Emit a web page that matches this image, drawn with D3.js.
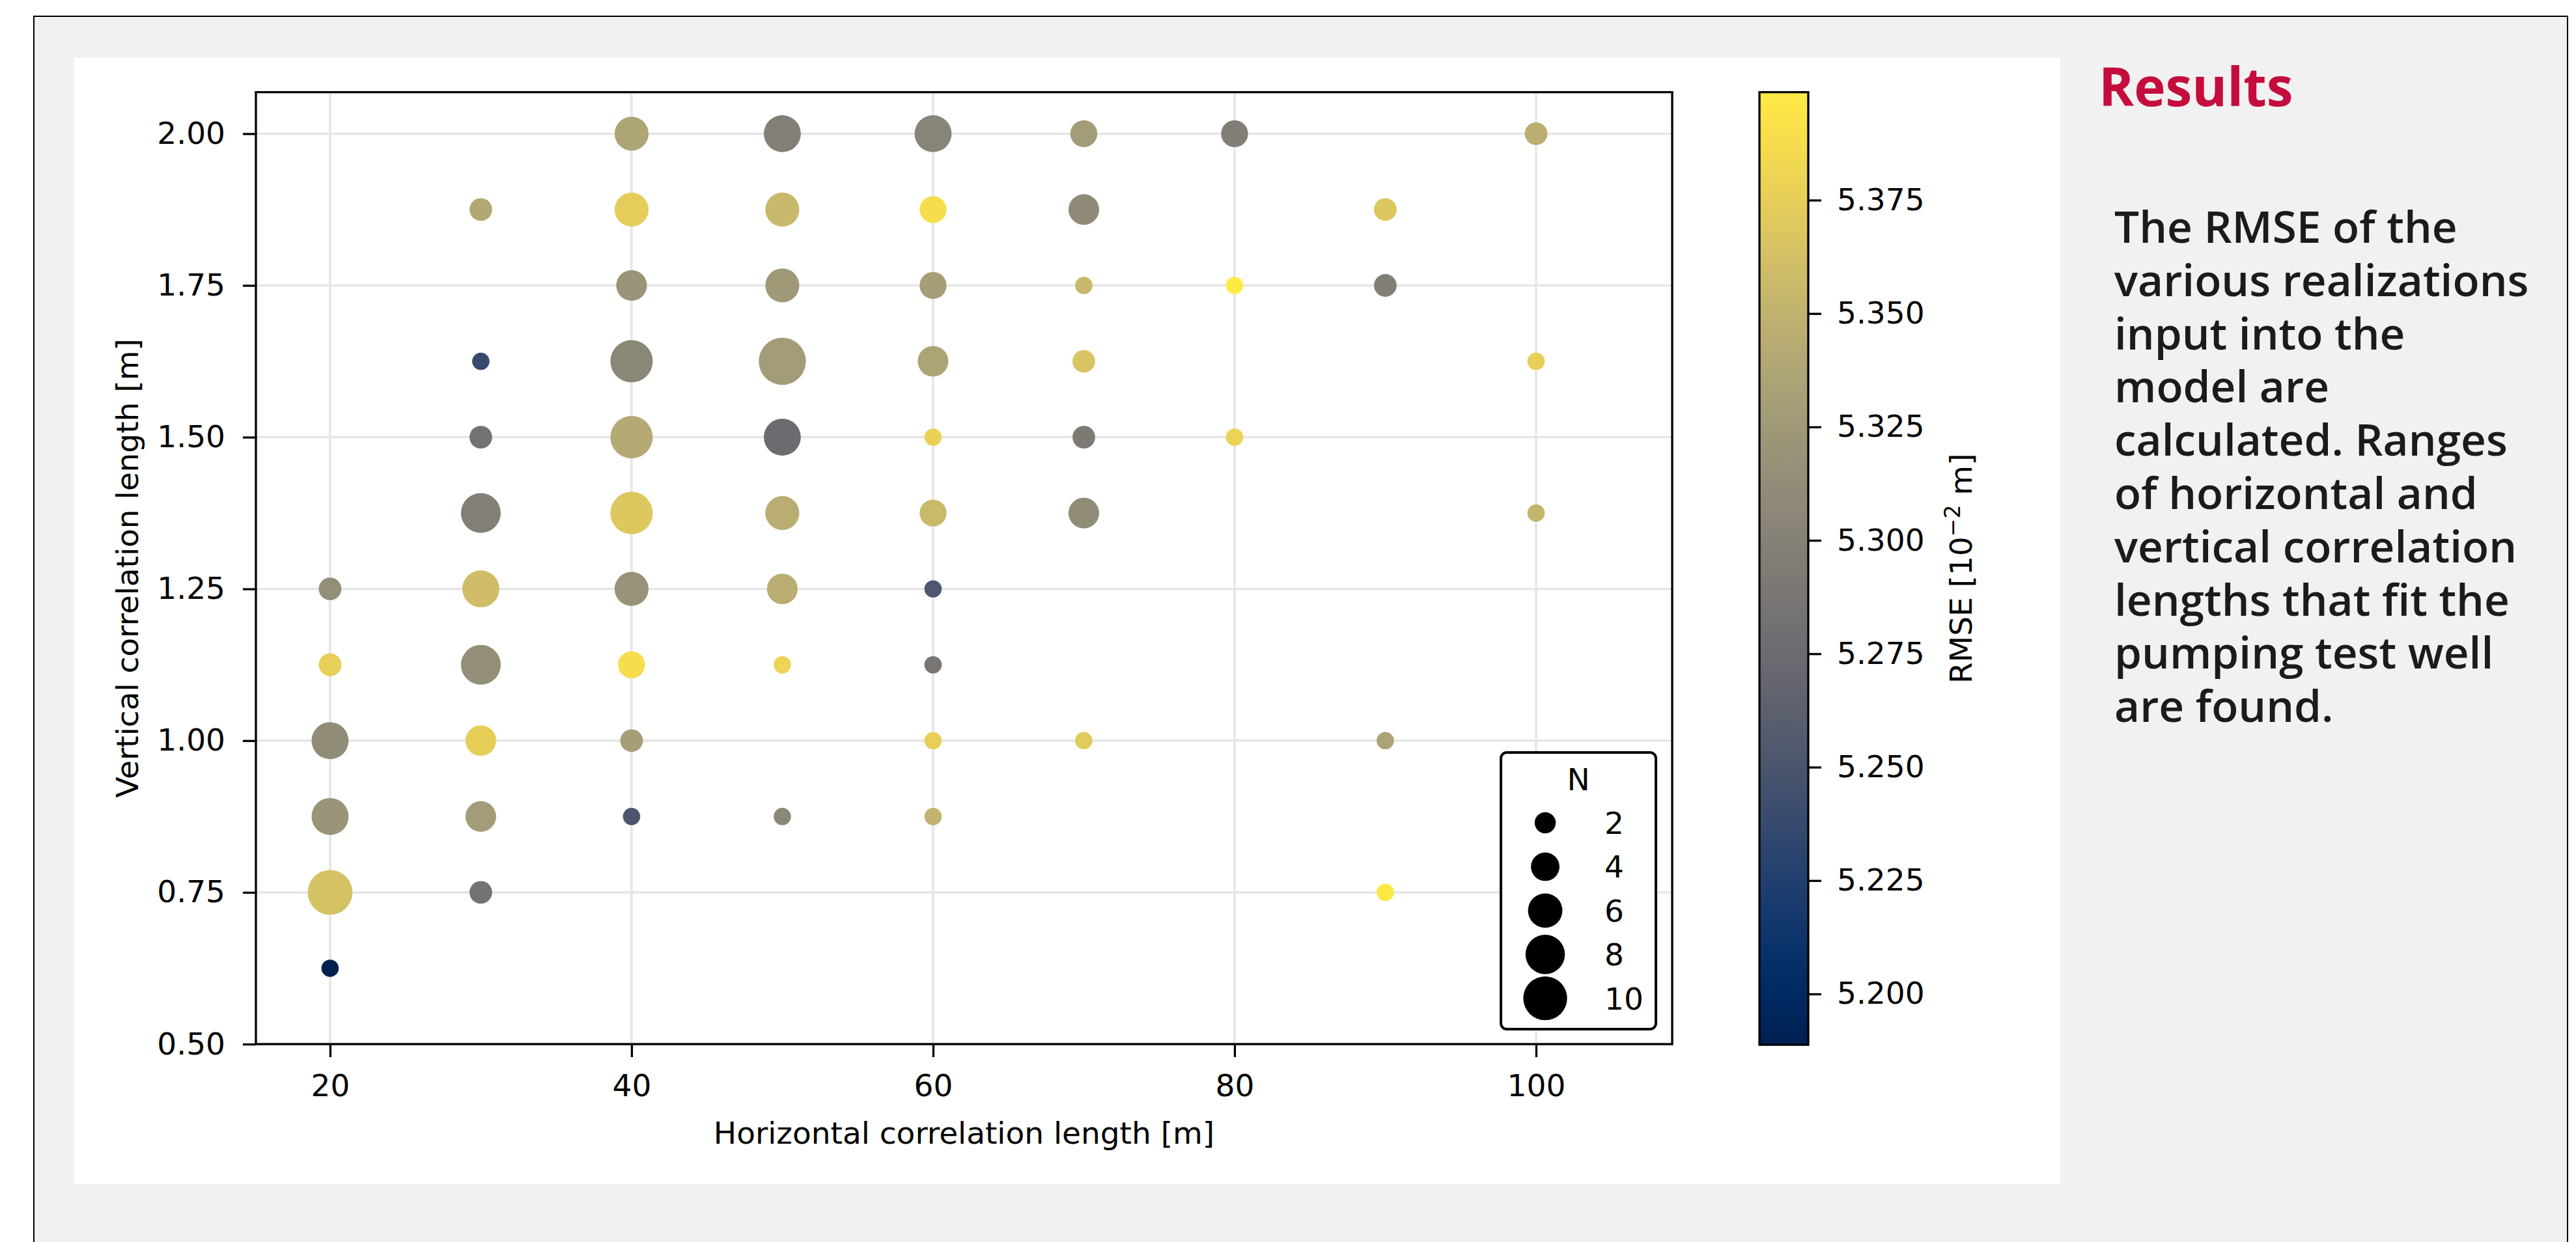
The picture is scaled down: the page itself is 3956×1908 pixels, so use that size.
<!DOCTYPE html>
<meta charset="utf-8">
<html>
<style>
body { margin: 0; background: #fff; }
svg { display: block; }
.axis text { font-family: "DejaVu Sans", sans-serif; font-size: 47px; fill: #000; }
.axis line, .axis path { stroke: #000; stroke-width: 3.3px; }
.grid line { stroke: #e5e5e5; stroke-width: 3.5px; }
.label { font-family: "DejaVu Sans", sans-serif; font-size: 47px; fill: #000; }
.title { font: 700 82px "Open Sans", sans-serif; fill: #c40d3c; }
.body { font: 600 67.5px "Open Sans", sans-serif; fill: #1b1b1b; }
</style>
<svg width="3956" height="1908"></svg>
<script src="https://d3js.org/d3.v7.min.js"></script>
<script>
// one entry per (horizontal, vertical) correlation length pair
var hLen = [20, 20, 20, 20, 20, 20,
            30, 30, 30, 30, 30, 30, 30, 30, 30,
            40, 40, 40, 40, 40, 40, 40, 40, 40, 40,
            50, 50, 50, 50, 50, 50, 50, 50, 50,
            60, 60, 60, 60, 60, 60, 60, 60, 60, 60,
            70, 70, 70, 70, 70, 70, 70,
            80, 80, 80,
            90, 90, 90, 90,
            100, 100, 100];
var vLen = [1.25, 1.125, 1.0, 0.875, 0.75, 0.625,
            1.875, 1.625, 1.5, 1.375, 1.25, 1.125, 1.0, 0.875, 0.75,
            2.0, 1.875, 1.75, 1.625, 1.5, 1.375, 1.25, 1.125, 1.0, 0.875,
            2.0, 1.875, 1.75, 1.625, 1.5, 1.375, 1.25, 1.125, 0.875,
            2.0, 1.875, 1.75, 1.625, 1.5, 1.375, 1.25, 1.125, 1.0, 0.875,
            2.0, 1.875, 1.75, 1.625, 1.5, 1.375, 1.0,
            2.0, 1.75, 1.5,
            1.875, 1.75, 1.0, 0.75,
            2.0, 1.625, 1.375];
// number of realizations
var nReal = [2, 2, 6, 6, 9, 1,
             2, 1, 2, 7, 6, 7, 4, 4, 2,
             5, 5, 4, 8, 8, 8, 5, 3, 2, 1,
             6, 5, 5, 10, 6, 5, 4, 1, 1,
             6, 3, 3, 4, 1, 3, 1, 1, 1, 1,
             3, 4, 1, 2, 2, 4, 1,
             3, 1, 1,
             2, 2, 1, 1,
             2, 1, 1];
// RMSE [1e-2 m]
var rmse = [5.314, 5.376, 5.311, 5.320, 5.364, 5.1888,
            5.340, 5.239, 5.282, 5.298, 5.360, 5.314, 5.375, 5.328, 5.283,
            5.337, 5.374, 5.320, 5.306, 5.342, 5.369, 5.318, 5.388, 5.330, 5.252,
            5.298, 5.355, 5.325, 5.328, 5.275, 5.345, 5.345, 5.380, 5.306,
            5.303, 5.388, 5.330, 5.336, 5.378, 5.356, 5.253, 5.287, 5.376, 5.351,
            5.328, 5.310, 5.355, 5.366, 5.292, 5.311, 5.372,
            5.297, 5.3988, 5.379,
            5.369, 5.296, 5.336, 5.398,
            5.346, 5.376, 5.352];

var xTicks = [20, 40, 60, 80, 100];
var yTicks = [0.5, 0.75, 1.0, 1.25, 1.5, 1.75, 2.0];
var cTicks = [5.200, 5.225, 5.250, 5.275, 5.300, 5.325, 5.350, 5.375];
var legendN = [2, 4, 6, 8, 10];

var heading = "Results";
var bodyLines = ["The RMSE of the", "various realizations", "input into the", "model are",
                 "calculated. Ranges", "of horizontal and", "vertical correlation",
                 "lengths that fit the", "pumping test well", "are found."];

var svg = d3.select("svg");

// page background
svg.append("rect").attr("x", 52).attr("y", 25).attr("width", 3891).attr("height", 1960)
    .attr("fill", "#f1f1f1").attr("stroke", "#000").attr("stroke-width", 2);
svg.append("rect").attr("x", 114).attr("y", 89).attr("width", 3050).attr("height", 1730)
    .attr("fill", "#fff");

var pL = 393, pR = 2568, pT = 141.6, pB = 1604;

var x = d3.scaleLinear().domain([15.08, 109.03]).range([pL, pR]);
var y = d3.scaleLinear().domain([0.5, 2.0684]).range([pB, pT]);
var area = d3.scaleLinear().domain([0, 10]).range([51, 1311]);
var rad = n => Math.sqrt(area(n));
var color = d3.scaleSequential(d3.interpolateCividis).domain(d3.extent(rmse));

// grid
var grid = svg.append("g").attr("class", "grid");
grid.selectAll(".gx").data(xTicks).join("line").attr("class", "gx")
    .attr("x1", d => x(d)).attr("x2", d => x(d)).attr("y1", pT).attr("y2", pB);
grid.selectAll(".gy").data(yTicks).join("line").attr("class", "gy")
    .attr("y1", d => y(d)).attr("y2", d => y(d)).attr("x1", pL).attr("x2", pR);

// points
var pts = d3.range(hLen.length).map(i => ({h: hLen[i], v: vLen[i], n: nReal[i], e: rmse[i]}));
svg.append("g").selectAll("circle").data(pts).join("circle")
    .attr("cx", d => x(d.h)).attr("cy", d => y(d.v))
    .attr("r", d => rad(d.n))
    .attr("fill", d => color(d.e));

// axes
svg.append("g").attr("class", "axis")
    .attr("transform", `translate(0,${pB})`)
    .call(d3.axisBottom(x).tickValues(xTicks).tickSize(20).tickSizeOuter(0).tickPadding(27))
    .call(g => g.select(".domain").remove());
svg.append("g").attr("class", "axis")
    .attr("transform", `translate(${pL},0)`)
    .call(d3.axisLeft(y).tickValues(yTicks).tickFormat(d3.format(".2f")).tickSize(20).tickSizeOuter(0).tickPadding(27))
    .call(g => g.select(".domain").remove());
svg.append("rect").attr("x", pL).attr("y", pT).attr("width", pR - pL).attr("height", pB - pT)
    .attr("fill", "none").attr("stroke", "#000").attr("stroke-width", 3.3);

svg.append("text").attr("class", "label")
    .attr("x", (pL + pR) / 2).attr("y", 1757).attr("text-anchor", "middle")
    .text("Horizontal correlation length [m]");
svg.append("text").attr("class", "label")
    .attr("transform", `translate(212,${(pT + pB) / 2}) rotate(-90)`)
    .attr("text-anchor", "middle")
    .text("Vertical correlation length [m]");

// size legend
var lg = svg.append("g");
lg.append("rect").attr("x", 2305).attr("y", 1156).attr("width", 238).attr("height", 425)
    .attr("rx", 9).attr("fill", "#fff").attr("stroke", "#000").attr("stroke-width", 4);
lg.append("text").attr("class", "label").attr("x", 2424).attr("y", 1214)
    .attr("text-anchor", "middle").text("N");
var li = lg.selectAll(".item").data(legendN).join("g").attr("class", "item")
    .attr("transform", (d, i) => `translate(2373,${1264 + i * 67.4})`);
li.append("circle").attr("r", d => rad(d) * 0.93).attr("fill", "#000");
li.append("text").attr("class", "label").attr("x", 91).attr("dy", "0.36em").text(d => d);

// colorbar
var cbX = 2702, cbW = 75, cbB = 1605;
var cy = d3.scaleLinear().domain(color.domain()).range([cbB, pT]);
var grad = svg.append("defs").append("linearGradient").attr("id", "cb")
    .attr("x1", 0).attr("y1", 1).attr("x2", 0).attr("y2", 0);
grad.selectAll("stop").data(d3.range(0, 1.0001, 0.02)).join("stop")
    .attr("offset", d => d).attr("stop-color", d => d3.interpolateCividis(d));
svg.append("rect").attr("x", cbX).attr("y", pT).attr("width", cbW).attr("height", cbB - pT)
    .attr("fill", "url(#cb)").attr("stroke", "#000").attr("stroke-width", 3.3);
svg.append("g").attr("class", "axis")
    .attr("transform", `translate(${cbX + cbW},0)`)
    .call(d3.axisRight(cy).tickValues(cTicks).tickFormat(d3.format(".3f")).tickSize(20).tickSizeOuter(0).tickPadding(24))
    .call(g => g.select(".domain").remove());
var cl = svg.append("text").attr("class", "label")
    .attr("transform", `translate(3028,${(pT + cbB) / 2}) rotate(-90)`)
    .attr("text-anchor", "middle");
cl.append("tspan").text("RMSE [10");
cl.append("tspan").attr("font-size", 33).attr("dy", -18).text("\u22122");
cl.append("tspan").attr("dy", 18).text(" m]");

// side text
svg.append("text").attr("class", "title").attr("x", 3223).attr("y", 163).text(heading);
svg.append("g").selectAll("text").data(bodyLines).join("text")
    .attr("class", "body").attr("x", 3247).attr("y", (d, i) => 373 + i * 81.8).text(d => d);
</script>
</html>
